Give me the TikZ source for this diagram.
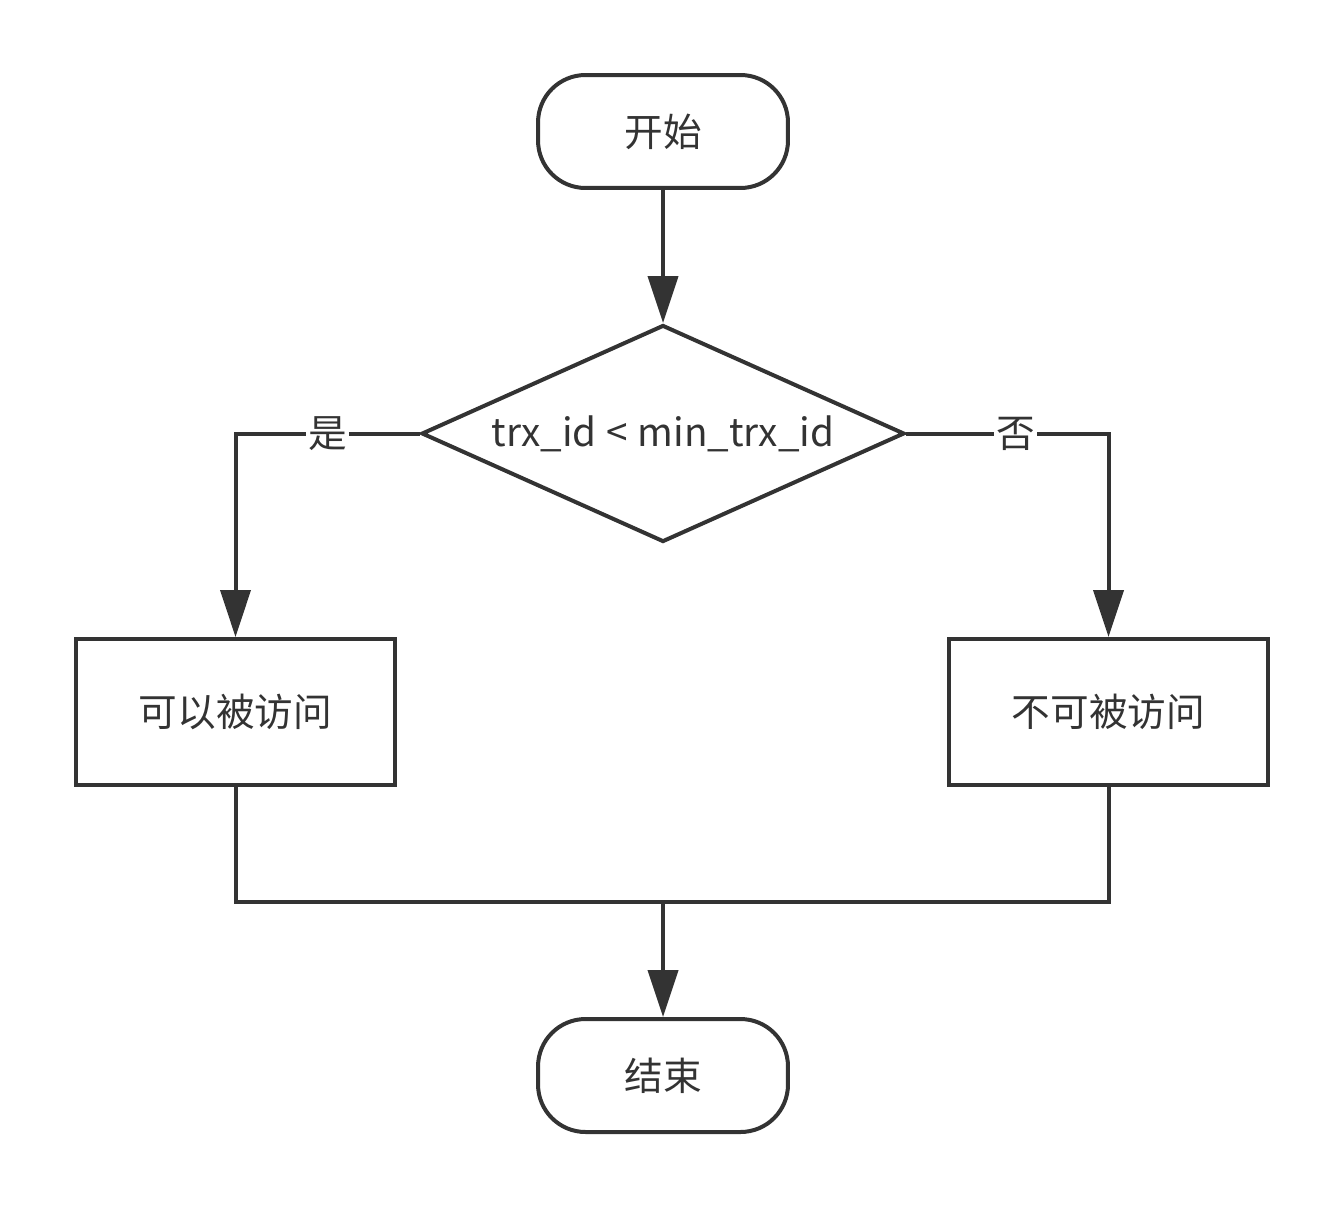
\documentclass[tikz,border=0pt]{standalone}
\usepackage{fontspec}
\setmainfont{Noto Sans CJK SC}
\usepackage{xcolor}
\usetikzlibrary{shapes.geometric,arrows.meta,positioning}
\definecolor{ink}{HTML}{333333}

\begin{document}
\begin{tikzpicture}[
    x=0.02cm, y=-0.02cm,
    line width=0.08cm, draw=ink, text=ink,
    font=\fontsize{22}{26}\selectfont,
    terminal/.style={rectangle, draw, rounded corners=0.95cm, minimum width=5cm, minimum height=2.26cm, inner sep=0pt},
    decision/.style={diamond, draw, aspect=2.2, minimum width=9.66cm, minimum height=4.34cm, inner sep=0pt},
    process/.style={rectangle, draw, minimum width=6.38cm, minimum height=2.92cm, inner sep=0pt},
    flow/.style={draw=ink, line width=0.08cm},
    arrow/.style={flow, -{Triangle[length=0.94cm, width=0.6cm]}},
    answer/.style={fill=white, inner sep=1pt},
]
    \useasboundingbox (0,0) rectangle (1344,1207);

    % Start and decision
    \node[terminal] (start) at (663,131.5) {开始};
    \node[decision] (check) at (663,433.5) {trx\_id\hspace{0.25em}<\hspace{0.25em}min\_trx\_id};

    % Outcome boxes
    \node[process] (visible) at (235.5,712) {可以被访问};
    \node[process] (hidden) at (1108.5,712) {不可被访问};

    % End
    \node[terminal] (finish) at (663,1075.5) {结束};
    \coordinate (join) at (663,902);

    % Arrows
    \draw[arrow] (start) -- (check);
    \draw[arrow] (check.west) -| node[answer, pos=0.25] {是} (visible.north);
    \draw[arrow] (check.east) -| node[answer, pos=0.27] {否} (hidden.north);

    % Merge to end
    \draw[flow] (visible.south) |- (join) -| (hidden.south);
    \draw[arrow] (join) -- (finish);
\end{tikzpicture}
\end{document}
